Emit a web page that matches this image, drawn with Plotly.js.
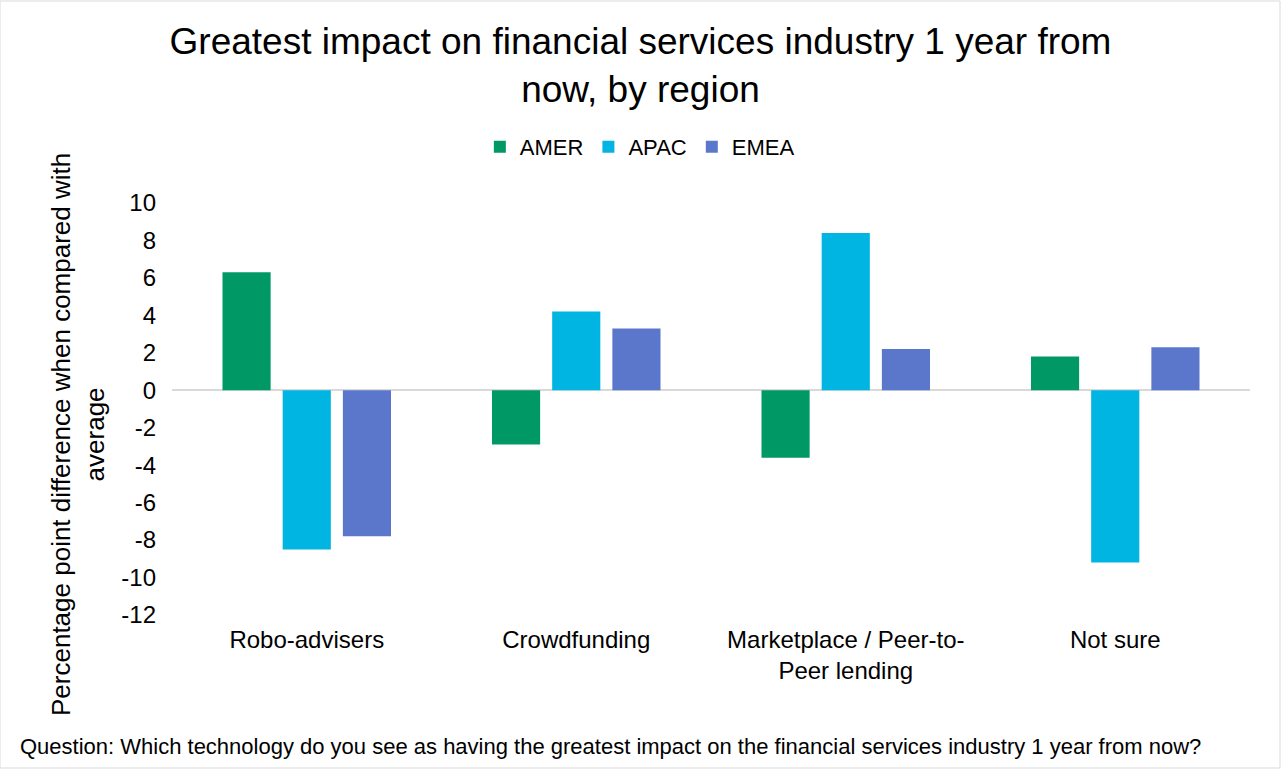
<!DOCTYPE html>
<html>
<head>
<meta charset="utf-8">
<script src="https://cdn.plot.ly/plotly-3.0.1.min.js"></script>
<style>
  html, body { margin: 0; padding: 0; background: #ffffff; }
  #chart { width: 1281px; height: 769px; }
</style>
</head>
<body>
<div id="chart"></div>
<script>
// ===============================
// DATA
// ===============================

const categories = [
    'Robo-advisers',
    'Crowdfunding',
    'Marketplace / Peer-to-<br>Peer lending',
    'Not sure'
];

const amerValues = [6.3, -2.9, -3.6, 1.8];
const apacValues = [-8.5, 4.2, 8.4, -9.2];
const emeaValues = [-7.8, 3.3, 2.2, 2.3];

const yTicks = [-12, -10, -8, -6, -4, -2, 0, 2, 4, 6, 8, 10];

// ===============================
// CHART
// ===============================

const font = 'Arial, "Liberation Sans", sans-serif';

function barTrace(name, values, color) {
    return {
        type: 'bar',
        name: name,
        x: categories,
        y: values,
        marker: { color: color },
        hoverinfo: 'x+y+name'
    };
}

const traces = [
    barTrace('AMER', amerValues, '#009966'),
    barTrace('APAC', apacValues, '#00B5E2'),
    barTrace('EMEA', emeaValues, '#5B77CB')
];

const layout = {
    width: 1281,
    height: 769,
    paper_bgcolor: '#ffffff',
    plot_bgcolor: '#ffffff',
    font: { family: font, color: '#000000', size: 23 },
    margin: { l: 172, r: 31, t: 203, b: 154 },
    barmode: 'group',
    bargap: 0.33,
    bargroupgap: 0.2,

    title: {
        text: 'Greatest impact on financial services industry 1 year from<br>now, by region',
        font: { family: font, size: 37, color: '#000000' },
        x: 0.5,
        xref: 'container',
        xanchor: 'center',
        y: 1 - 54 / 769,
        yref: 'container',
        yanchor: 'middle'
    },

    showlegend: true,
    legend: {
        orientation: 'h',
        x: 0.434,
        xanchor: 'center',
        y: 1.136,
        yanchor: 'middle',
        font: { family: font, size: 22, color: '#000000' },
        itemwidth: 30,
        traceorder: 'normal'
    },

    xaxis: {
        type: 'category',
        showgrid: false,
        showline: false,
        zeroline: false,
        ticks: '',
        ticklabelstandoff: 8,
        tickfont: { family: font, size: 24, color: '#000000' }
    },

    yaxis: {
        range: [-12, 10],
        tickvals: yTicks,
        ticktext: yTicks.map(String),
        showgrid: false,
        showline: false,
        zeroline: true,
        zerolinecolor: '#d9d9d9',
        zerolinewidth: 2,
        ticks: '',
        ticklabelstandoff: 15,
        tickfont: { family: font, size: 24, color: '#000000' }
    },

    annotations: [
        {
            text: 'Percentage point difference when compared with<br>average',
            textangle: -90,
            xref: 'paper',
            yref: 'paper',
            x: (78 - 172) / 1078,
            y: (615 - 435) / 412,
            xanchor: 'center',
            yanchor: 'middle',
            showarrow: false,
            font: { family: font, size: 26, color: '#000000' }
        },
        {
            text: 'Question: Which technology do you see as having the greatest impact on the financial services industry 1 year from now?',
            xref: 'paper',
            yref: 'paper',
            x: (18 - 172) / 1078,
            y: (615 - 746) / 412,
            xanchor: 'left',
            yanchor: 'middle',
            showarrow: false,
            font: { family: font, size: 22, color: '#000000' }
        }
    ],

    shapes: [
        {
            type: 'rect',
            xref: 'paper',
            yref: 'paper',
            x0: -172 / 1078,
            x1: (1281 - 172 - 1) / 1078,
            y0: -153 / 412,
            y1: 1 + 202 / 412,
            line: { color: '#d9d9d9', width: 1 }
        }
    ]
};

Plotly.newPlot('chart', traces, layout, { displayModeBar: false, staticPlot: true });
</script>
</body>
</html>
